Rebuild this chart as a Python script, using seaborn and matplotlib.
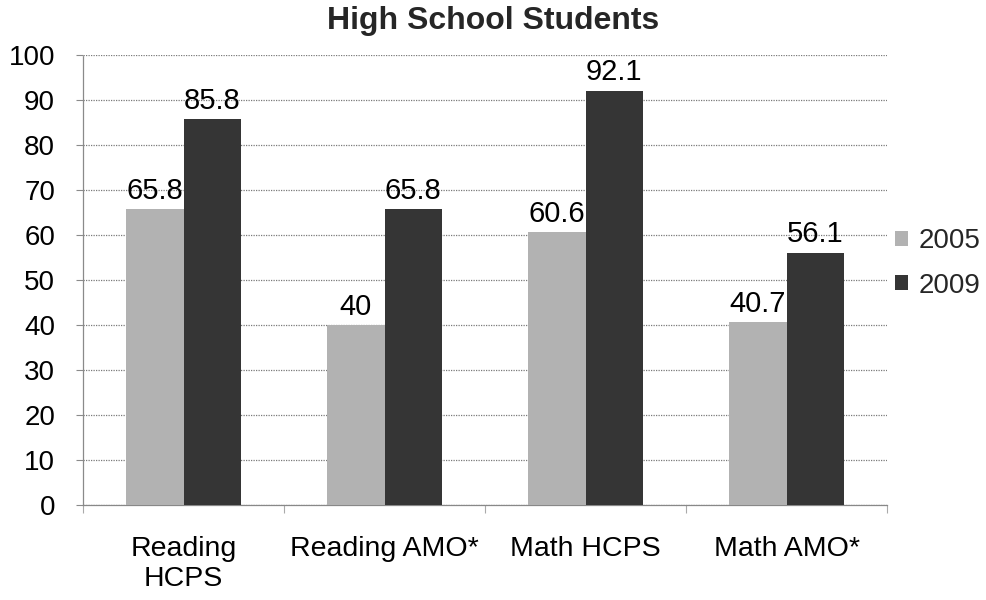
import matplotlib
matplotlib.use("Agg")
import matplotlib.pyplot as plt
import seaborn as sns
import pandas as pd
import numpy as np

categories = ["Reading\nHCPS", "Reading AMO*", "Math HCPS", "Math AMO*"]
years = ["2005", "2009"]
values_2005 = [65.8, 40, 60.6, 40.7]
values_2009 = [85.8, 65.8, 92.1, 56.1]
y_ticks = [0, 10, 20, 30, 40, 50, 60, 70, 80, 90, 100]

df = pd.DataFrame({
    "category": categories * 2,
    "year": [years[0]] * 4 + [years[1]] * 4,
    "value": values_2005 + values_2009,
})

sns.set_theme(style="white")
plt.rcParams["font.family"] = ["Liberation Sans", "DejaVu Sans"]

fig = plt.figure(figsize=(9.87, 6), dpi=100)
ax = fig.add_axes([0.0841, 0.1583, 0.8146, 0.75])

palette = {"2005": "#b2b2b2", "2009": "#353535"}
sns.barplot(data=df, x="category", y="value", hue="year", order=categories,
            hue_order=years, palette=palette, width=0.57, gap=0,
            saturation=1, ax=ax, linewidth=0, zorder=3)

ax.set_ylim(0, 100)
ax.set_xlim(-0.5, 3.5)
ax.set_yticks(y_ticks)
ax.yaxis.grid(True, color="#7a7a7a", linestyle=(0, (1, 1)), linewidth=0.9, zorder=0)
ax.set_xlabel("")
ax.set_ylabel("")

for s in ["top", "right"]:
    ax.spines[s].set_visible(False)
ax.spines["left"].set_color("#8a8a8a")
ax.spines["left"].set_linewidth(0.9)
ax.spines["left"].set_linestyle((0, (1, 1)))
ax.spines["bottom"].set_color("#888888")
ax.spines["bottom"].set_linewidth(0.9)

ax.tick_params(axis="y", left=True, length=5, width=0.8, color="#8a8a8a",
               pad=15, labelsize=20, labelcolor="black")
ax.tick_params(axis="x", which="major", length=0, pad=22, labelsize=20.5, labelcolor="black")
ax.set_xticks(np.arange(-0.5, 4.0, 1.0), minor=True)
ax.tick_params(axis="x", which="minor", bottom=True, length=6, color="#aaaaaa", width=0.8)

for container in ax.containers:
    ax.bar_label(container, labels=[f"{v:g}" for v in container.datavalues],
                 padding=3, fontsize=21, color="black")

ax.legend(loc="center left", bbox_to_anchor=(1.01, 0.537), frameon=False,
          fontsize=20, handlelength=0.45, handleheight=0.45, handletextpad=0.4,
          labelspacing=0.66, borderaxespad=0, borderpad=0)

fig.suptitle("High School Students", x=0.5, y=0.99, fontsize=23, fontweight="bold")

fig.savefig("out.png", dpi=100)
